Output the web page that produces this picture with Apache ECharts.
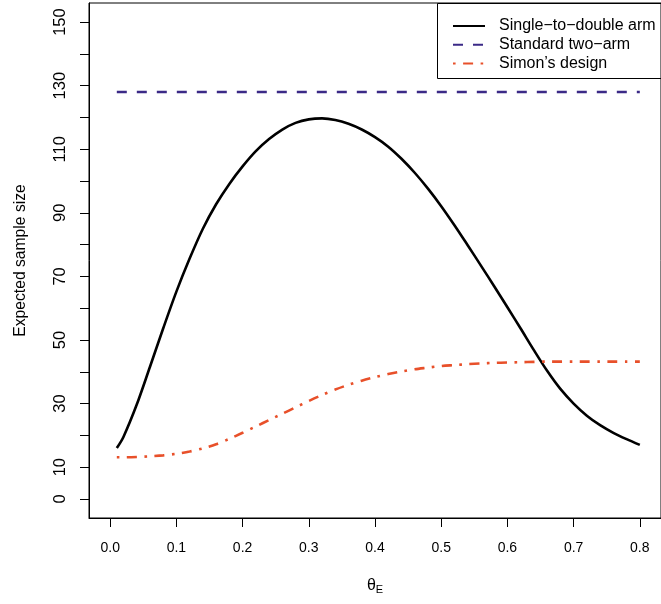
<!DOCTYPE html>
<html>
<head>
<meta charset="utf-8">
<script src="https://cdn.jsdelivr.net/npm/echarts@6/dist/echarts.min.js"></script>
<style>html,body{margin:0;padding:0;background:#fff;}#c{width:661px;height:604px;}</style>
</head>
<body>
<div id="c"></div>
<script>
const theta = [0.01,0.02,0.04,0.06,0.08,0.10,0.12,0.14,0.16,0.18,0.20,0.22,0.24,0.26,0.28,0.30,0.32,0.34,0.36,0.38,0.40,0.42,0.44,0.46,0.48,0.50,0.52,0.54,0.56,0.58,0.60,0.62,0.64,0.66,0.68,0.70,0.72,0.74,0.76,0.78,0.80];
const singleToDouble = [16,19.5,29.6,41.5,53.6,65.2,75.6,85.0,92.7,99.1,104.6,109.4,113.2,116.2,118.3,119.4,119.7,119.2,118.0,116.2,113.8,110.8,107.0,102.6,97.6,92.1,86.1,79.8,73.4,66.9,60.3,53.6,46.8,40.3,34.6,30.0,26.2,23.2,20.8,18.8,17.0];
const standardTwoArm = [128,128,128,128,128,128,128,128,128,128,128,128,128,128,128,128,128,128,128,128,128,128,128,128,128,128,128,128,128,128,128,128,128,128,128,128,128,128,128,128,128];
const simon = [13.1,13.1,13.2,13.4,13.7,14.2,14.9,15.9,17.2,18.9,20.8,22.8,24.8,26.8,28.8,30.8,32.7,34.4,35.9,37.2,38.3,39.3,40.1,40.8,41.3,41.8,42.1,42.4,42.6,42.8,42.9,43.0,43.1,43.2,43.2,43.2,43.2,43.2,43.2,43.2,43.2];
const yTicks = [0,10,20,30,40,50,60,70,80,90,100,110,120,130,140,150];
const yLabels = [0,10,30,50,70,90,110,130,150];
const xTicks = [0,0.1,0.2,0.3,0.4,0.5,0.6,0.7,0.8];
const seriesNames = ['Single\u2212to\u2212double arm','Standard two\u2212arm','Simon\u2019s design'];

const font = 'Liberation Sans, Arial, Helvetica, sans-serif';
const pair = (ys) => theta.map((x, i) => [x, ys[i]]);

const chart = echarts.init(document.getElementById('c'), null, {renderer: 'canvas'});
chart.setOption({
  animation: false,
  backgroundColor: '#fff',
  grid: {left: 89, top: 3, width: 575, height: 515, show: true, borderColor: '#000', borderWidth: 1, backgroundColor: 'transparent'},
  xAxis: {
    type: 'value', min: -0.032, max: 0.832,
    splitLine: {show: false},
    axisLine: {show: true, onZero: false, lineStyle: {color: '#000', width: 1}},
    axisTick: {show: true, length: 9, inside: false, customValues: xTicks, lineStyle: {color: '#000'}},
    axisLabel: {customValues: xTicks, formatter: v => v.toFixed(1), fontFamily: font, fontSize: 14, color: '#000', margin: 23},
    name: '{t|\u03B8}{s|E}', nameLocation: 'middle', nameGap: 58,
    nameTextStyle: {rich: {t: {fontFamily: font, fontSize: 16, color: '#000'}, s: {fontFamily: font, fontSize: 11, color: '#000', padding: [8, 0, 0, 0]}}}
  },
  yAxis: {
    type: 'value', min: -6, max: 156,
    splitLine: {show: false},
    axisLine: {show: true, onZero: false, lineStyle: {color: '#000', width: 1}},
    axisTick: {show: true, length: 9, customValues: yTicks, lineStyle: {color: '#000'}},
    axisLabel: {customValues: yLabels, rotate: 90, fontFamily: font, fontSize: 16.5, color: '#000', margin: 20},
    name: 'Expected sample size', nameLocation: 'middle', nameGap: 60, nameRotate: 90,
    nameTextStyle: {fontFamily: font, fontSize: 15.7, color: '#000'}
  },
  legend: {
    orient: 'vertical', left: 447, top: 13, itemWidth: 32, itemHeight: 16, itemGap: 2.8,
    itemStyle: {opacity: 0},
    textStyle: {fontFamily: font, fontSize: 16, color: '#000', lineHeight: 16, padding: [0, 0, 0, 9]},
    data: seriesNames
  },
  graphic: [{type: 'rect', shape: {x: 437.5, y: 3.5, width: 260, height: 75}, style: {fill: 'none', stroke: '#000', lineWidth: 1}, z: 100}],
  series: [
    {name: seriesNames[0], type: 'line', data: pair(singleToDouble), smooth: 0.3, symbol: 'none', lineStyle: {color: '#000', width: 2.6}, itemStyle: {color: '#000'}},
    {name: seriesNames[1], type: 'line', data: pair(standardTwoArm), symbol: 'none', lineStyle: {color: '#3b2a87', width: 2.6, type: [10, 10]}, itemStyle: {color: '#3b2a87'}},
    {name: seriesNames[2], type: 'line', data: pair(simon), smooth: 0.3, symbol: 'none', lineStyle: {color: '#e8502a', width: 2.6, type: [2.6, 7.5, 10, 7.5]}, itemStyle: {color: '#e8502a'}}
  ]
});
</script>
</body>
</html>
